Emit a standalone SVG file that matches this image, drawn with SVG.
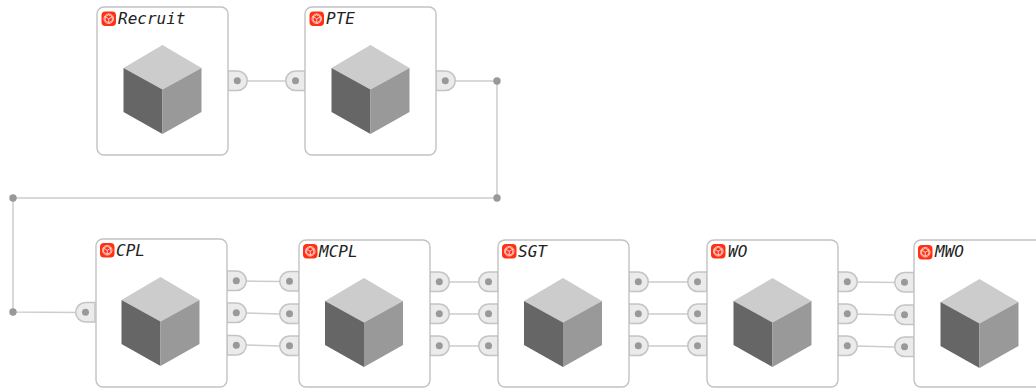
<svg xmlns="http://www.w3.org/2000/svg" width="1036" height="388" viewBox="0 0 1036 388">
<style>
.box{fill:#fff;stroke:#c2c2c2;stroke-width:1.4}
.port{fill:#ebebeb;stroke:#c4c4c4;stroke-width:1.5}
.dot{fill:#999}
.wire{fill:none;stroke:#cdcdcd;stroke-width:1.5}
.lbl{font-family:"DejaVu Sans Mono","Liberation Mono",monospace;font-style:italic;font-size:16px;fill:#222}
</style>
<defs>
<g id="cube">
<path d="M0 0L39 23L0 44.500L-39 23Z" fill="#cccccc"/>
<path d="M-39 23L0 44.500V89L-39 67Z" fill="#666666"/>
<path d="M39 23L0 44.500V89L39 67Z" fill="#999999"/>
</g>
<g id="icon">
<rect x="0" y="0" width="14.500" height="14.500" rx="4" fill="#ff3014"/>
<circle cx="7.250" cy="7.250" r="4.800" fill="none" stroke="#fff" stroke-width=".9" opacity=".75"/>
<path d="M7.250 3.200L10.800 5.200V9.300L7.250 11.300L3.700 9.300V5.200ZM3.700 5.200L7.250 7.300L10.800 5.200M7.250 7.300V11.300" fill="none" stroke="#fff" stroke-width=".9" opacity=".85"/>
</g>
<g id="out"><path class="port" d="M0 0H9.500A9.750 9.750 0 0 1 9.500 19.500H0Z"/><circle class="dot" cx="9.300" cy="9.750" r="3.500"/></g>
<g id="in"><path class="port" d="M19.500 0H10A9.750 9.750 0 0 0 10 19.500H19.500Z"/><circle class="dot" cx="10" cy="9.750" r="3.500"/></g>
</defs>
<g id="connectors">
<path class="wire" d="M246 81H286M455 81H497V198H13V312L77 312.500"/>
<path class="wire" d="M244 281L280 281.500M244 313L280 314M244 345L280 346"/>
<path class="wire" d="M448 282H479M448 314H479M448 346H479"/>
<path class="wire" d="M647 282H688M647 314H688M647 346H688"/>
<path class="wire" d="M856 282L895 282.500M856 314L895 315M856 346L895 347"/>
<circle class="dot" cx="497" cy="81" r="3.700"/>
<circle class="dot" cx="497" cy="198" r="3.700"/>
<circle class="dot" cx="13" cy="198" r="3.700"/>
<circle class="dot" cx="13" cy="312" r="3.700"/>
</g>
<g id="node-recruit">
<use href="#out" x="228" y="71"/>
<rect class="box" x="97" y="7" width="131" height="148" rx="7"/>
<use href="#icon" x="101.500" y="11.500"/>
<text class="lbl" x="118" y="24">Recruit</text>
<use href="#cube" x="162.500" y="45"/>
</g>
<g id="node-pte">
<use href="#in" x="285.500" y="71"/>
<use href="#out" x="436" y="71"/>
<rect class="box" x="305" y="7" width="131" height="148" rx="7"/>
<use href="#icon" x="309.500" y="11.500"/>
<text class="lbl" x="326" y="24">PTE</text>
<use href="#cube" x="370.500" y="45"/>
</g>
<g id="node-cpl">
<use href="#in" x="75.500" y="302.500"/>
<use href="#out" x="227" y="271"/>
<use href="#out" x="227" y="303"/>
<use href="#out" x="227" y="335.500"/>
<rect class="box" x="96" y="239" width="131" height="148" rx="7"/>
<use href="#icon" x="100" y="243"/>
<text class="lbl" x="116" y="256">CPL</text>
<use href="#cube" x="160.500" y="277"/>
</g>
<g id="node-mcpl">
<use href="#in" x="279.500" y="271.500"/>
<use href="#in" x="279.500" y="304"/>
<use href="#in" x="279.500" y="336"/>
<use href="#out" x="430" y="272"/>
<use href="#out" x="430" y="304"/>
<use href="#out" x="430" y="336"/>
<rect class="box" x="299" y="240" width="131" height="147" rx="7"/>
<use href="#icon" x="303" y="244"/>
<text class="lbl" x="319" y="257">MCPL</text>
<use href="#cube" x="364" y="278"/>
</g>
<g id="node-sgt">
<use href="#in" x="478.500" y="272"/>
<use href="#in" x="478.500" y="304"/>
<use href="#in" x="478.500" y="336"/>
<use href="#out" x="629" y="272"/>
<use href="#out" x="629" y="304"/>
<use href="#out" x="629" y="336"/>
<rect class="box" x="498" y="240" width="131" height="147" rx="7"/>
<use href="#icon" x="502" y="244"/>
<text class="lbl" x="518" y="257">SGT</text>
<use href="#cube" x="563" y="278"/>
</g>
<g id="node-wo">
<use href="#in" x="687.500" y="272"/>
<use href="#in" x="687.500" y="304"/>
<use href="#in" x="687.500" y="336"/>
<use href="#out" x="838" y="272"/>
<use href="#out" x="838" y="304"/>
<use href="#out" x="838" y="336"/>
<rect class="box" x="707" y="240" width="131" height="147" rx="7"/>
<use href="#icon" x="711" y="244"/>
<text class="lbl" x="728" y="257">WO</text>
<use href="#cube" x="772.500" y="278"/>
</g>
<g id="node-mwo">
<use href="#in" x="894.500" y="272.500"/>
<use href="#in" x="894.500" y="305"/>
<use href="#in" x="894.500" y="337"/>
<rect class="box" x="914" y="240" width="131" height="147" rx="7"/>
<use href="#icon" x="918" y="245"/>
<text class="lbl" x="935" y="257">MWO</text>
<use href="#cube" x="979.500" y="279"/>
</g>
</svg>
